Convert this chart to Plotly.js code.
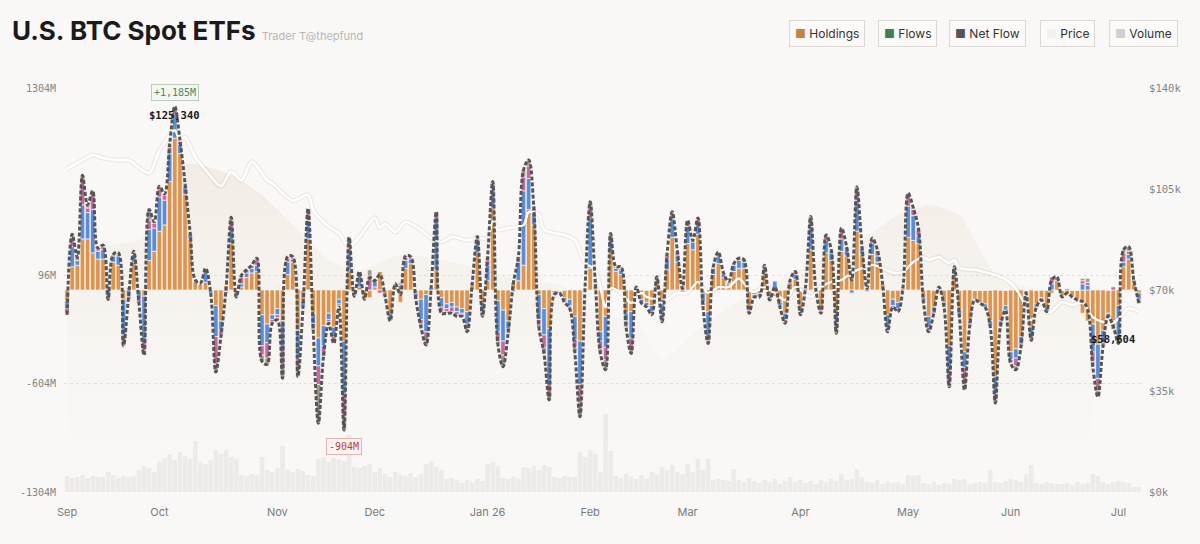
<!DOCTYPE html>
<html>
<head>
<meta charset="utf-8">
<script src="https://cdn.plot.ly/plotly-3.0.1.min.js"></script>
<style>
html,body{margin:0;padding:0;background:#f9f8f6;}
#chart{width:1200px;height:544px;}
</style>
</head>
<body>
<div id="chart"></div>
<script>
// ---- Data (values in $M for flows, $k for price, $B for holdings / volume) ----
const monthIdx = [0, 18, 41, 60, 82, 102, 121, 143, 164, 184, 205];
const monthLabels = ['Sep', 'Oct', 'Nov', 'Dec', 'Jan 26', 'Feb', 'Mar', 'Apr', 'May', 'Jun', 'Jul'];

const flowTicks = [1304, 96, -604, -1304];
const priceTicks = [0, 35, 70, 105, 140];

// orange segment (largest issuer)
const flowOrange = [
-70,150,160,330,330,240,200,200,10,180,
160,-60,20,180,0,-40,190,250,380,420,
700,980,880,620,330,60,40,50,0,-100,
-200,30,300,-30,20,80,110,120,-160,-220,
-160,-120,-200,100,180,-260,-70,330,-150,-310,
-230,-150,-240,-60,-330,130,-30,20,-60,-50,
20,120,-30,-150,20,-80,140,170,-20,-60,
-30,0,130,-50,-90,-80,-110,-120,-140,30,
240,-80,60,530,-70,-130,-200,50,60,160,
520,420,-30,-120,-250,-20,-10,-50,-60,-170,
-330,10,140,30,-270,-170,250,120,100,-150,
-140,0,-60,-80,-100,60,-60,130,340,180,
-20,300,260,360,-20,-140,100,170,80,40,
120,140,140,-100,-30,-25,110,-40,-40,-80,
-150,50,70,-120,10,260,0,-110,240,190,
-150,250,220,90,380,230,20,230,180,40,
-160,-60,-80,10,340,320,300,-50,-170,-110,
10,-80,-360,100,-130,-400,-200,-60,-80,-90,
-200,-560,-200,-100,-400,-380,-300,-20,-240,-90,
-50,-110,-20,60,-40,-30,-40,-60,-150,-200,
-220,-350,-260,-150,-200,-100,150,200,40,-20
];
// blue segment
const flowBlue = [
-50,130,30,220,170,280,50,60,-40,40,
60,-230,-40,50,-60,-280,200,150,220,160,
180,150,60,50,30,0,0,80,-20,-200,
-60,-10,100,-15,20,30,30,40,-200,-120,
-30,-40,-180,80,20,-180,-30,120,-70,-180,
-130,-40,-60,-30,-340,110,-10,90,0,0,
40,0,-10,-30,0,30,50,30,-30,-130,
-240,20,330,-60,-30,-30,-30,-30,-80,10,
70,-60,100,120,-200,-200,-50,-10,120,480,
200,90,-160,-170,-350,-10,-10,-20,-40,-150,
-280,5,320,10,-60,-200,80,20,30,-50,
-170,10,-20,-20,-40,20,-100,70,120,40,
20,110,50,70,-60,-170,40,50,20,10,
40,50,40,-30,-10,-15,40,-15,60,-20,
-40,10,30,-20,10,150,5,-20,80,50,
-60,80,40,-20,200,40,-10,70,40,5,
-80,-40,-40,10,200,160,50,-20,-70,-30,
10,-20,-160,40,-30,-100,-20,-5,-5,-20,
-30,-110,-30,-30,-50,-60,-50,0,-50,-20,
-10,-30,40,15,-5,10,-5,-5,40,30,
-180,-220,-80,-20,-10,-200,30,30,5,-40
];
// pink segment
const flowPink = [
-30,60,0,150,30,100,10,20,-20,10,
10,-50,-20,10,-20,-70,60,30,50,30,
40,40,20,10,10,0,0,10,0,-180,
-30,-10,50,0,45,20,20,30,-60,-100,
-15,-20,-120,25,10,-80,-10,50,-25,-120,
-40,-15,-25,-10,-150,30,0,10,0,90,
0,-20,0,-10,0,10,20,10,-10,-30,
-60,0,30,-30,-20,-30,-20,-10,-30,5,
25,-20,35,35,-60,-90,-20,0,25,90,
80,20,-30,-80,-70,0,0,-10,-10,-50,
-120,0,80,5,-50,-80,25,10,10,-30,
-60,0,-5,-10,-10,5,-30,25,35,30,
10,30,10,25,-20,-20,10,15,10,5,
10,10,10,-10,-5,-5,10,-10,0,-10,
-15,5,20,-10,0,50,0,-10,30,15,
-40,60,15,-5,70,10,0,30,35,0,
-20,-10,-20,0,70,40,40,-10,-20,-10,
0,-10,-80,10,-10,-110,-10,0,0,0,
-5,-40,-5,0,-20,-50,-10,0,-25,0,
-5,0,45,10,0,0,0,0,20,20,
-60,-80,-15,0,20,-20,60,20,0,-5
];
// gray / tan segment (all others)
const flowOther = [
-10,20,20,40,20,20,10,10,-10,0,
10,-20,0,10,0,-30,70,10,20,10,
20,15,10,10,0,5,5,0,0,-50,
-10,0,20,0,10,0,0,15,-40,-40,
-10,-15,-70,10,5,-40,0,25,-15,-250,
-30,-10,-20,-10,-84,70,0,0,0,40,
0,0,0,-10,20,10,10,5,0,-20,
-25,0,15,-10,-10,-10,-10,-10,-20,0,
10,-10,20,15,-20,-75,-10,0,10,45,
40,10,-20,-40,-40,0,0,0,-10,-30,
-88,0,30,0,-30,-65,10,0,10,-10,
-40,10,0,0,-10,0,-15,10,10,0,
0,10,0,10,-10,-15,0,10,0,0,
0,5,5,-10,0,0,0,0,0,0,
-10,0,0,-10,0,15,0,-10,5,5,
-30,10,5,0,15,0,0,5,5,0,
-10,0,0,0,15,10,10,0,-10,0,
0,0,-25,0,0,-35,-5,0,0,0,
0,-20,0,0,-5,-25,-5,0,-10,0,
0,0,0,0,0,0,0,0,15,25,
-35,-40,-10,0,-45,-25,20,30,20,-20
];
// daily volume, $B
const volume = [
1.6,1.4,1.5,1.7,1.4,1.6,1.5,1.5,2.0,1.7,
1.4,1.6,1.5,1.6,2.2,2.6,2.4,2.0,3.0,3.4,
3.8,3.2,4.0,3.6,3.3,5.1,3.0,2.8,3.2,4.2,
3.8,4.2,3.5,3.3,1.7,1.6,1.8,1.7,3.5,2.2,
2.0,2.4,4.6,2.2,2.0,2.3,2.1,1.7,1.6,3.3,
3.5,3.0,3.4,3.3,3.1,5.7,2.5,2.4,2.6,2.8,
2.0,2.4,1.8,1.5,2.0,1.7,1.6,1.9,1.5,1.8,
2.8,3.0,2.5,2.2,1.3,1.4,1.2,0.9,1.2,1.0,
1.3,1.1,2.8,3.0,2.6,1.4,1.3,1.5,1.4,2.5,
2.4,2.6,2.2,2.7,2.5,1.5,1.4,1.6,1.5,1.5,
4.0,3.5,4.2,3.8,2.0,7.8,4.1,1.6,1.4,1.8,
1.5,1.3,1.7,1.4,2.0,1.8,2.5,2.2,2.7,2.0,
1.8,2.8,2.0,3.3,2.2,3.3,1.2,1.3,1.2,1.1,
2.3,1.2,1.0,1.4,1.1,0.9,1.2,1.0,1.3,0.8,
1.1,1.5,1.0,1.2,0.9,1.1,0.8,1.2,1.0,1.3,
1.1,1.8,1.2,1.3,2.3,1.5,1.0,0.9,1.2,0.8,
1.1,0.9,1.0,0.8,1.7,1.6,1.7,0.9,0.8,1.0,
0.7,0.9,0.8,1.3,1.2,1.3,0.8,0.9,1.0,0.9,
2.2,1.0,0.9,1.1,1.3,1.2,1.0,1.8,2.7,0.9,
0.8,1.0,0.9,0.8,0.8,0.9,0.7,1.0,0.8,0.9,
1.8,1.6,1.0,0.8,1.0,1.1,1.0,0.9,0.5,0.5
];
// BTC price ($k) at trading-day index
const priceIdx = [0,3,5,7,10,12,16,18,19,21,22,23,25,27,30,32,34,36,38,39,40,44,47,48,51,53,55,57,60,61,62,64,66,69,71,73,75,78,80,82,83,84,86,89,90,92,93,95,97,99,101,103,105,106,108,110,112,113,115,116,119,121,123,125,127,129,131,133,134,136,138,140,142,145,147,149,151,153,155,157,159,161,163,165,167,168,170,172,173,174,177,179,182,184,186,187,188,190,191,192,194,196,198,200,202,204,206,207,209];
const priceK = [112,115,116.8,115.7,115,115,110.5,118.5,121,125.34,122,123,116,111.6,106,111,108,114.5,110.5,108,107,101,103,97.7,92,89.7,85,88.4,95,91.5,93,90,93.6,90.8,88,86.6,88.4,87.3,88,88,94,90.8,91.5,92.5,97,96,90.8,89.7,89,87.3,79.3,77,64,70.7,69,65.5,69,67.6,66.5,65.5,69,69,72.8,69,71,71,74,70,69.3,71,69,66.5,71,67.6,71,72.8,73.5,76,77.6,78.7,77.6,76,76.2,79.7,81.4,80.4,81.4,79.3,80.4,77.6,77,76.2,74.5,72.4,67.6,63,59.6,64,62.4,62.6,65.8,64.8,65.5,60.6,58.9,58.604,62,63.7,62.4];
// total holdings ($B) at trading-day index
const holdIdx = [0,6,14,20,22,26,32,38,45,51,57,65,73,81,88,96,104,112,116,123,131,139,147,155,162,168,174,178,182,190,197,200];
const holdB = [119.8,122,124.8,144.6,161.9,161.9,156.9,147,129.7,114.9,109.9,117.3,114.9,109.9,105,102.5,90.1,80.2,65.3,80.2,95,105,114.9,124.8,137.1,142.1,137.1,119.8,105,100,95,90.1];

// ---- Build ----
const N = flowOrange.length;
const days = Array.from({length: N}, (_, i) => i);
const netFlow = days.map(i => flowOrange[i] + flowBlue[i] + flowPink[i] + flowOther[i]);

let iMax = 0, iMin = 0;
netFlow.forEach((v, i) => { if (v > netFlow[iMax]) iMax = i; if (v < netFlow[iMin]) iMin = i; });
let pMax = 0, pMin = 0;
priceK.forEach((v, i) => { if (v > priceK[pMax]) pMax = i; if (v < priceK[pMin]) pMin = i; });

const BG = '#f9f8f6';
const MONO = '"DejaVu Sans Mono", "Liberation Mono", monospace';
const SANS = 'Inter, "Noto Sans", sans-serif';
const segLine = {color: 'rgba(249,248,246,0.95)', width: 0.7};

function seg(name, y, color) {
  return {type: 'bar', name, x: days, y, yaxis: 'y3', marker: {color, line: segLine}, hoverinfo: 'skip'};
}

const traces = [
  {type: 'scatter', name: 'Holdings', x: holdIdx, y: holdB, yaxis: 'y', mode: 'lines',
   line: {width: 0, shape: 'spline', smoothing: 0.6}, fill: 'tozeroy',
   fillcolor: 'rgba(230,212,194,0.25)',
   fillgradient: {type: 'vertical', colorscale: [[0, 'rgba(242,236,230,0.0)'], [1, 'rgba(228,210,192,0.32)']]},
   hoverinfo: 'skip'},
  {type: 'bar', name: 'Volume', x: days, y: volume, yaxis: 'y2',
   marker: {color: 'rgba(205,202,197,0.28)', line: {width: 0}}, hoverinfo: 'skip'},
  seg('IBIT', flowOrange, '#dc944f'),
  seg('FBTC', flowBlue, '#5b8cd8'),
  seg('ARKB', flowPink, '#c66b9c'),
  seg('Others', flowOther, '#a29c8e'),
  {type: 'scatter', x: priceIdx, y: priceK, yaxis: 'y4', mode: 'lines',
   line: {color: 'rgba(60,50,40,0.07)', width: 5, shape: 'spline', smoothing: 0.8}, hoverinfo: 'skip'},
  {type: 'scatter', name: 'Price', x: priceIdx, y: priceK, yaxis: 'y4', mode: 'lines',
   line: {color: '#ffffff', width: 2.4, shape: 'spline', smoothing: 0.8}, hoverinfo: 'skip'},
  {type: 'scatter', name: 'Net Flow', x: days, y: netFlow, yaxis: 'y5', mode: 'lines',
   line: {color: '#555555', width: 3, dash: '4px,2px', shape: 'spline', smoothing: 1}, hoverinfo: 'skip'}
];

const fmt = v => Math.round(v).toLocaleString('en-US');

// legend chips
const chips = [
  ['Holdings', '#c98140', 826.5],
  ['Flows', '#3f7f52', 907.5],
  ['Net Flow', '#555555', 987],
  ['Price', '#f1f1f1', 1067.5],
  ['Volume', '#cfcfcf', 1143]
];
const plotL = 64, plotW = 1078, plotT = 88, plotH = 404;
const annotations = chips.map(([label, c, px]) => ({
  xref: 'paper', yref: 'paper', x: (px - plotL) / plotW, y: (plotT + plotH - 33) / plotH,
  xanchor: 'center', yanchor: 'middle', showarrow: false,
  text: '<span style="color:' + c + '">■</span> ' + label,
  font: {family: SANS, size: 12, color: '#333333'},
  bgcolor: '#fbfaf9', bordercolor: '#dcd9d4', borderwidth: 1, borderpad: 5
}));

annotations.push(
  {xref: 'x', yref: 'y3', x: iMax, y: netFlow[iMax], yanchor: 'bottom', yshift: 5, showarrow: false,
   text: '+' + fmt(netFlow[iMax]) + 'M', font: {family: MONO, size: 10, color: '#4c8a5c'},
   bgcolor: '#f3f6f1', bordercolor: '#b9cdbe', borderwidth: 1, borderpad: 2},
  {xref: 'x', yref: 'y3', x: iMin, y: netFlow[iMin], yanchor: 'top', yshift: -8, showarrow: false,
   text: '-' + fmt(-netFlow[iMin]) + 'M', font: {family: MONO, size: 10, color: '#b84545'},
   bgcolor: '#fbf2f1', bordercolor: '#e3b4b2', borderwidth: 1, borderpad: 2},
  {xref: 'x', yref: 'y4', x: priceIdx[pMax], y: priceK[pMax], yanchor: 'bottom', yshift: 7, showarrow: false,
   text: '<b>$' + fmt(priceK[pMax] * 1000) + '</b>', font: {family: MONO, size: 10.5, color: '#1a1a1a'}},
  {xref: 'x', yref: 'y4', x: priceIdx[pMin], y: priceK[pMin], yanchor: 'top', yshift: -8, showarrow: false,
   text: '<b>$' + fmt(priceK[pMin] * 1000) + '</b>', font: {family: MONO, size: 10.5, color: '#1a1a1a'}}
);

const layout = {
  width: 1200, height: 544,
  paper_bgcolor: BG, plot_bgcolor: BG,
  margin: {l: plotL, r: 1200 - plotL - plotW, t: plotT, b: 544 - plotT - plotH},
  showlegend: false,
  barmode: 'relative', bargap: 0.12,
  title: {
    text: 'U.S. BTC Spot ETFs <span style="font-size:11px;font-weight:400;color:#b8b6b3">Trader T@thepfund</span>',
    x: 12 / 1200, xref: 'container', xanchor: 'left',
    y: 1 - 31 / 544, yref: 'container', yanchor: 'middle',
    font: {family: SANS, size: 26, weight: 700, color: '#1b1b1b'}
  },
  xaxis: {
    range: [-0.6, N - 0.4], tickmode: 'array', tickvals: monthIdx, ticktext: monthLabels,
    showgrid: false, zeroline: false, showline: false,
    ticks: 'outside', ticklen: 10, tickcolor: 'rgba(0,0,0,0)',
    tickfont: {family: SANS, size: 11, color: '#7b7b7b'}
  },
  yaxis: {range: [0, 200], visible: false, showgrid: false, zeroline: false},
  yaxis2: {range: [0, 40.4], overlaying: 'y', visible: false, showgrid: false, zeroline: false},
  yaxis3: {
    range: [-1304, 1304], overlaying: 'y', side: 'left',
    tickmode: 'array', tickvals: flowTicks, ticktext: flowTicks.map(v => v + 'M'),
    showgrid: true, gridcolor: '#e3e0db', griddash: 'dot', gridwidth: 1,
    zeroline: false, showline: false,
    ticks: 'outside', ticklen: 5, tickcolor: 'rgba(0,0,0,0)',
    tickfont: {family: MONO, size: 10, color: '#858585'}
  },
  yaxis4: {
    range: [0, 140], overlaying: 'y', side: 'right',
    tickmode: 'array', tickvals: priceTicks, ticktext: priceTicks.map(v => '$' + v + 'k'),
    showgrid: false, zeroline: false, showline: false,
    ticks: 'outside', ticklen: 4, tickcolor: 'rgba(0,0,0,0)',
    tickfont: {family: MONO, size: 10.5, color: '#858585'}
  },
  yaxis5: {range: [-1304, 1304], overlaying: 'y', visible: false, showgrid: false, zeroline: false},
  annotations
};

Plotly.newPlot('chart', traces, layout, {staticPlot: true, displayModeBar: false});
</script>
</body>
</html>
